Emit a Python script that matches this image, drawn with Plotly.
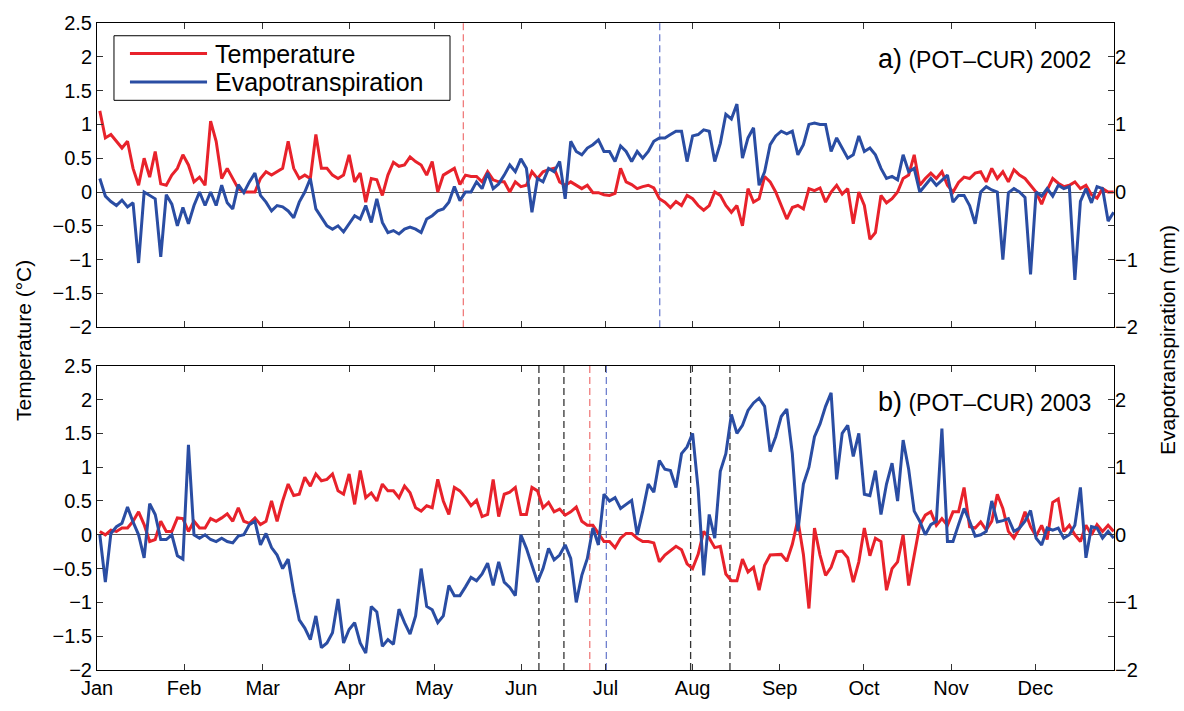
import numpy as np
import plotly.graph_objects as go

temp_2002 = [
    1.2, 0.8, 0.85, 0.75, 0.65, 0.75, 0.35, 0.1, 0.5, 0.22,
    0.6, 0.12, 0.1, 0.25, 0.35, 0.55, 0.4, 0.15, 0.22, 0.1,
    1.05, 0.75, 0.2, 0.35, 0.2, 0.05, 0.0, 0.0, 0.0, 0.2,
    0.3, 0.25, 0.3, 0.35, 0.75, 0.35, 0.2, 0.25, 0.2, 0.85,
    0.35, 0.35, 0.25, 0.2, 0.25, 0.55,
    0.15, 0.28, -0.15, 0.2, 0.18, -0.05, 0.25, 0.44, 0.38, 0.4,
    0.52, 0.45, 0.4, 0.25, 0.45, 0.0, 0.25, 0.3, 0.35, 0.11,
    0.25, 0.23, 0.23, 0.15, 0.3, 0.18, 0.15, 0.15, 0.0, 0.15,
    0.08, 0.1, 0.3, 0.2, 0.3, 0.33, 0.35, 0.15, 0.1, 0.15,
    0.1, 0.05, 0.1, -0.01, -0.01, -0.04,
    -0.05, -0.02, 0.35, 0.15, 0.11, 0.05, 0.08, 0.1, 0.06, -0.1,
    -0.15, -0.23, -0.14, -0.2, -0.05, -0.1, -0.2, -0.27, -0.2, 0.0,
    -0.05, -0.2, -0.3, -0.2, -0.5, 0.05, -0.15, -0.1, 0.23, 0.15,
    0.0, -0.2, -0.4, -0.23, -0.2, -0.25, 0.05, 0.02, 0.06, -0.15,
    0.0, 0.1, -0.03, 0.05, -0.47, 0.0,
    -0.2, -0.7, -0.6, -0.05, -0.16, -0.1, 0.0, 0.2, 0.25, 0.55,
    0.1, 0.2, 0.28, 0.2, 0.3, 0.1, 0.0, 0.14, 0.22, 0.2,
    0.28, 0.3, 0.15, 0.35, 0.2, 0.3, 0.15, 0.33, 0.25, 0.2,
    0.1, 0.0, -0.18, 0.03, 0.2, 0.13, 0.08, 0.1, 0.15, 0.05,
    0.1, -0.04, -0.09, 0.05, 0.0, 0.0,
]
et_2002 = [
    0.2, -0.06, -0.14, -0.2, -0.12, -0.22, -0.16, -1.05, 0.0, -0.05,
    -0.1, -0.96, -0.04, -0.18, -0.5, -0.23, -0.47, -0.2, 0.0, -0.2,
    0.0, -0.2, 0.1, -0.16, -0.25, 0.11, -0.01, 0.15, 0.28, -0.05,
    -0.15, -0.28, -0.2, -0.22, -0.28, -0.38, -0.15, 0.0, 0.2, -0.25,
    -0.38, -0.5, -0.55, -0.5, -0.59, -0.47,
    -0.35, -0.4, -0.2, -0.45, -0.1, -0.45, -0.6, -0.57, -0.62, -0.55,
    -0.52, -0.55, -0.6, -0.4, -0.35, -0.28, -0.25, -0.15, 0.08, -0.13,
    0.0, 0.0, 0.15, 0.05, 0.28, 0.05, 0.12, 0.25, 0.4, 0.3,
    0.49, 0.35, -0.3, 0.2, 0.15, 0.35, 0.3, 0.45, -0.1, 0.75,
    0.6, 0.55, 0.65, 0.7, 0.77, 0.6,
    0.6, 0.45, 0.68, 0.6, 0.45, 0.6, 0.5, 0.6, 0.75, 0.8,
    0.8, 0.85, 0.9, 0.9, 0.45, 0.83, 0.85, 0.92, 0.9, 0.45,
    0.72, 1.15, 1.08, 1.3, 0.5, 0.8, 0.95, 0.1, 0.3, 0.7,
    0.83, 0.9, 0.86, 0.9, 0.55, 0.7, 1.0, 1.02, 1.0, 1.0,
    0.6, 0.8, 0.65, 0.5, 0.55, 0.83,
    0.6, 0.65, 0.55, 0.35, 0.2, 0.23, 0.18, 0.55, 0.3, 0.35,
    0.0, 0.1, 0.2, 0.1, 0.17, 0.25, -0.15, -0.05, -0.05, -0.2,
    -0.47, 0.0, 0.08, 0.03, 0.0, -1.0, -0.01, 0.05, 0.0, -0.08,
    -1.22, 0.0, -0.06, 0.05, -0.06, 0.1, 0.05, 0.08, -1.3, -0.14,
    0.05, -0.16, 0.08, 0.05, -0.43, -0.3,
]
temp_2003 = [
    0.05, 0.0, 0.07, 0.05, 0.1, 0.1, 0.2, 0.34, 0.15, -0.1,
    -0.07, 0.2, 0.05, 0.05, 0.25, 0.24, 0.05, 0.2, 0.1, 0.1,
    0.24, 0.2, 0.25, 0.31, 0.2, 0.4, 0.2, 0.17, 0.25, 0.15,
    0.2, 0.5, 0.2, 0.5, 0.75, 0.58, 0.6, 0.85, 0.72, 0.9,
    0.8, 0.82, 0.9, 0.65, 0.6, 0.9,
    0.45, 0.95, 0.55, 0.62, 0.5, 0.75, 0.65, 0.65, 0.55, 0.72,
    0.62, 0.4, 0.35, 0.43, 0.4, 0.82, 0.5, 0.3, 0.7, 0.65,
    0.55, 0.43, 0.51, 0.27, 0.3, 0.82, 0.27, 0.6, 0.63, 0.7,
    0.3, 0.3, 0.7, 0.65, 0.4, 0.48, 0.34, 0.38, 0.29, 0.34,
    0.41, 0.2, 0.14, 0.14, 0.02, -0.1,
    -0.1, -0.19, -0.05, 0.02, 0.02, -0.05, -0.1, -0.1, -0.12, -0.4,
    -0.3, -0.24, -0.17, -0.22, -0.43, -0.5, -0.29, 0.05, -0.05, -0.19,
    -0.17, -0.58, -0.68, -0.68, -0.36, -0.55, -0.48, -0.82, -0.45, -0.3,
    -0.29, -0.29, -0.39, -0.14, 0.22, -0.29, -1.09, 0.1, -0.3, -0.6,
    -0.48, -0.25, -0.24, -0.34, -0.7, -0.4,
    0.1, -0.31, -0.05, -0.1, -0.82, -0.5, -0.4, 0.0, -0.75, -0.3,
    0.14, 0.29, 0.34, 0.14, 0.24, 0.14, 0.34, 0.34, 0.7, 0.12,
    0.1, 0.19, 0.07, 0.2, 0.6, 0.39, 0.05, -0.05, 0.1, 0.34,
    0.12, -0.02, 0.14, -0.07, 0.48, 0.53, 0.05, 0.14, 0.0, -0.1,
    0.14, 0.0, 0.15, 0.05, 0.14, 0.05,
]
et_2003 = [
    0.0, -0.7, 0.02, 0.12, 0.17, 0.41, 0.19, 0.0, -0.34, 0.46,
    0.3, -0.07, -0.07, 0.0, -0.31, -0.36, 1.33, 0.0, -0.05, 0.0,
    -0.07, -0.1, -0.05, -0.1, -0.12, -0.02, 0.0, 0.15, 0.2, -0.15,
    0.02, -0.19, -0.3, -0.5, -0.36, -0.85, -1.26, -1.38, -1.55, -1.2,
    -1.67, -1.6, -1.45, -0.95, -1.6, -1.4,
    -1.3, -1.6, -1.75, -1.06, -1.14, -1.65, -1.55, -1.62, -1.1, -1.3,
    -1.47, -1.2, -0.5, -1.06, -1.11, -1.3, -1.2, -0.75, -0.9, -0.9,
    -0.77, -0.63, -0.68, -0.58, -0.42, -0.75, -0.4, -0.7, -0.78, -0.9,
    0.0, -0.2, -0.45, -0.7, -0.5, -0.2, -0.37, -0.3, -0.15, -0.35,
    -1.0, -0.6, -0.35, 0.1, -0.15, 0.6,
    0.5, 0.55, 0.39, 0.45, 0.51, 0.0, 0.35, 0.75, 0.63, 1.1,
    0.97, 0.95, 0.7, 1.2, 1.3, 1.5, 0.68, -0.6, 0.3, -0.05,
    0.94, 1.2, 1.78, 1.5, 1.62, 1.84, 1.95, 2.02, 1.9, 1.23,
    1.45, 1.75, 1.86, 1.2, 0.05, 0.75, 1.0, 1.45, 1.64, 1.9,
    2.1, 0.82, 1.5, 1.62, 1.16, 1.5,
    0.6, 0.58, 0.95, 0.3, 0.75, 1.06, 0.5, 1.4, 0.97, 0.35,
    0.2, 0.0, 0.15, 0.2, 1.57, -0.1, -0.1, 0.15, 0.39, 0.2,
    -0.02, 0.0, 0.05, 0.5, 0.19, 0.21, 0.24, 0.05, 0.1, 0.2,
    0.36, -0.05, -0.15, 0.1, 0.07, 0.1, -0.05, 0.0, 0.14, 0.7,
    -0.34, 0.12, 0.1, -0.05, 0.05, -0.05,
]

# day of year of each sample (roughly every 2 days)
days = 1 + 1.972 * np.arange(len(temp_2002))

month_start = [0, 31, 59, 90, 120, 151, 181, 212, 243, 273, 304, 334]
month_names = ["Jan", "Feb", "Mar", "Apr", "May", "Jun",
               "Jul", "Aug", "Sep", "Oct", "Nov", "Dec"]

# event markers (day of year)
top_red_days = [130.4]
top_blue_days = [200.3]
bot_black_days = [157.3, 166.2, 211.3, 225.3]
bot_red_days = [175.4]
bot_blue_days = [181.3]

RED = "#e8222b"
BLUE = "#2a4da3"
FONT = "Liberation Sans, Arial, Helvetica, sans-serif"
LW = 3

fig = go.Figure()
fig.add_trace(go.Scatter(x=days, y=temp_2002, mode="lines", xaxis="x", yaxis="y",
                         line=dict(color=RED, width=LW), name="Temperature",
                         showlegend=False))
fig.add_trace(go.Scatter(x=days, y=et_2002, mode="lines", xaxis="x", yaxis="y2",
                         line=dict(color=BLUE, width=LW), name="Evapotranspiration",
                         showlegend=False))
fig.add_trace(go.Scatter(x=days, y=temp_2003, mode="lines", xaxis="x2", yaxis="y3",
                         line=dict(color=RED, width=LW), name="Temperature",
                         showlegend=False))
fig.add_trace(go.Scatter(x=days, y=et_2003, mode="lines", xaxis="x2", yaxis="y4",
                         line=dict(color=BLUE, width=LW), name="Evapotranspiration",
                         showlegend=False))

shapes = []
def vlines(day_list, xref, yref, color):
    for d in day_list:
        shapes.append(dict(type="line", xref=xref, yref=yref + " domain",
                           x0=d, x1=d, y0=0, y1=1, layer="below",
                           line=dict(color=color, width=1.3, dash="7px,4px")))

vlines(top_red_days, "x", "y", "#f07c7c")
vlines(top_blue_days, "x", "y", "#6f80cf")
vlines(bot_black_days, "x2", "y3", "#333333")
vlines(bot_red_days, "x2", "y3", "#f07c7c")
vlines(bot_blue_days, "x2", "y3", "#6f80cf")

# legend box drawn by hand (long line samples like the original)
shapes.append(dict(type="rect", xref="paper", yref="paper",
                   x0=0.0167, x1=0.3471, y0=0.8805, y1=0.9803,
                   line=dict(color="black", width=1), fillcolor="white", layer="above"))
shapes.append(dict(type="line", xref="paper", yref="paper",
                   x0=0.0324, x1=0.1082, y0=0.9527, y1=0.9527,
                   line=dict(color=RED, width=LW)))
shapes.append(dict(type="line", xref="paper", yref="paper",
                   x0=0.0324, x1=0.1082, y0=0.9089, y1=0.9089,
                   line=dict(color=BLUE, width=LW)))

annotations = [
    dict(text="Temperature", x=0.1141, y=0.9527, xref="paper", yref="paper",
         xanchor="left", yanchor="middle", showarrow=False, font=dict(size=25)),
    dict(text="Evapotranspiration", x=0.1141, y=0.9089, xref="paper", yref="paper",
         xanchor="left", yanchor="middle", showarrow=False, font=dict(size=25)),
    dict(text="<span style='font-size:27px'>a)</span> (POT\u2013CUR) 2002",
         x=0.9794, y=0.944, xref="paper", yref="paper",
         xanchor="right", yanchor="middle", showarrow=False, font=dict(size=23)),
    dict(text="<span style='font-size:27px'>b)</span> (POT\u2013CUR) 2003",
         x=0.9794, y=0.4145, xref="paper", yref="paper",
         xanchor="right", yanchor="middle", showarrow=False, font=dict(size=23)),
    dict(text="Temperature (\u00b0C)", x=-0.0728, y=0.51, xref="paper", yref="paper",
         textangle=-90, xanchor="center", yanchor="middle", showarrow=False,
         font=dict(size=21)),
    dict(text="Evapotranspiration (mm)", x=1.052, y=0.51, xref="paper", yref="paper",
         textangle=-90, xanchor="center", yanchor="middle", showarrow=False,
         font=dict(size=21)),
]

box = dict(showline=True, linecolor="black", linewidth=1, mirror="ticks",
           ticks="inside", ticklen=6, tickcolor="#333333", showgrid=False)
left_y = dict(box, range=[-2, 2.5], tickmode="linear", tick0=-2, dtick=0.5,
              zeroline=True, zerolinecolor="#555555", zerolinewidth=1)
right_y = dict(range=[-2, 2.5], side="right", tickvals=[-2, -1, 0, 1, 2],
               ticks="", showgrid=False, zeroline=False, showline=False)
x_common = dict(box, range=[0, 362], tickvals=month_start, zeroline=False)

fig.update_layout(
    width=1184, height=711,
    margin=dict(l=97, r=70, t=18, b=32),
    paper_bgcolor="white", plot_bgcolor="white",
    font=dict(family=FONT, size=20, color="black"),
    xaxis=dict(x_common, anchor="y", showticklabels=False),
    yaxis=dict(left_y, domain=[0.5298, 1.0]),
    yaxis2=dict(right_y, overlaying="y", anchor="x"),
    xaxis2=dict(x_common, anchor="y3", ticktext=month_names),
    yaxis3=dict(left_y, domain=[0.0, 0.4702]),
    yaxis4=dict(right_y, overlaying="y3", anchor="x2"),
    shapes=shapes,
    annotations=annotations,
)

# drop the default page margin so the 1184x711 figure fills the window
fig.write_html("out.html",
               config={"displayModeBar": False},
               post_script="document.body.style.margin='0';"
                           "document.body.style.overflow='hidden';")
